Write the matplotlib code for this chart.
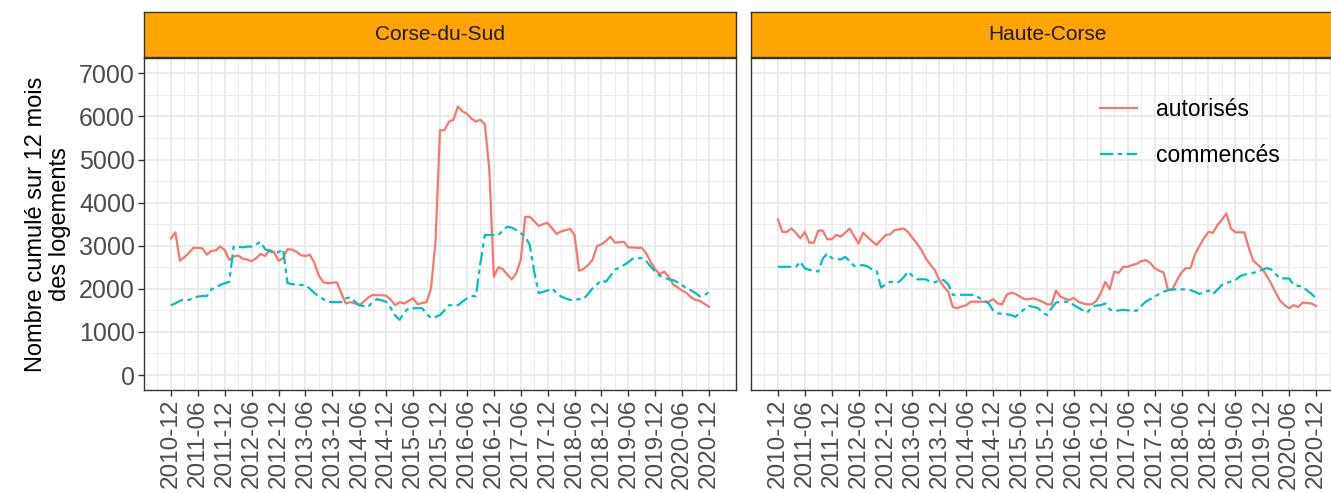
import numpy as np
import pandas as pd
import matplotlib
matplotlib.use("agg")
import matplotlib.pyplot as plt
from matplotlib.ticker import MultipleLocator

plt.rcParams['font.family'] = ['Liberation Sans', 'DejaVu Sans']

# mois de 2010-12 a 2020-12
mois = pd.date_range("2010-12-01", "2020-12-01", freq="MS")
departements = ["Corse-du-Sud", "Haute-Corse"]

cds_autorises = [
    3170, 3310, 2650, 2730, 2830, 2950, 2950, 2940, 2790, 2880, 2890, 2980,
    2900, 2670, 2750, 2770, 2700, 2680, 2640, 2710, 2810, 2760, 2900, 2850,
    2650, 2710, 2920, 2910, 2860, 2780, 2760, 2790, 2600, 2300, 2150, 2130,
    2140, 2150, 1900, 1660, 1690, 1660, 1620, 1700, 1800, 1860, 1850, 1850,
    1840, 1750, 1620, 1690, 1660, 1720, 1780, 1640, 1670, 1690, 2010, 3100,
    5680, 5680, 5880, 5920, 6230, 6120, 6060, 5950, 5880, 5920, 5820, 4760,
    2280, 2500, 2460, 2330, 2220, 2360, 2670, 3670, 3670, 3570, 3460, 3500,
    3530, 3400, 3270, 3330, 3360, 3390, 3250, 2420, 2460, 2550, 2670, 2990,
    3030, 3110, 3210, 3070, 3080, 3090, 2960, 2960, 2950, 2950, 2820, 2620,
    2450, 2340, 2400, 2280, 2100, 2030, 1960, 1900, 1800, 1740, 1720, 1650,
    1580]
cds_commences = [
    1620, 1660, 1720, 1760, 1740, 1780, 1820, 1830, 1830, 1990, 2020, 2090,
    2130, 2160, 2980, 2980, 2960, 2980, 2980, 3030, 3090, 2920, 2880, 2820,
    2850, 2920, 2130, 2110, 2090, 2090, 2090, 2000, 1900, 1820, 1760, 1700,
    1690, 1690, 1690, 1780, 1800, 1700, 1620, 1600, 1580, 1700, 1760, 1730,
    1700, 1560, 1380, 1280, 1450, 1550, 1550, 1550, 1550, 1420, 1320, 1350,
    1390, 1500, 1620, 1620, 1620, 1700, 1780, 1830, 1830, 2590, 3250, 3250,
    3250, 3250, 3350, 3440, 3420, 3360, 3290, 3210, 3020, 2400, 1900, 1930,
    1960, 2010, 1900, 1820, 1780, 1740, 1750, 1760, 1760, 1880, 2010, 2100,
    2200, 2160, 2300, 2450, 2480, 2550, 2620, 2700, 2710, 2710, 2640, 2510,
    2400, 2300, 2260, 2220, 2200, 2150, 2080, 2010, 1960, 1900, 1820, 1850,
    1930]
hc_autorises = [
    3610, 3320, 3320, 3400, 3300, 3170, 3320, 3070, 3070, 3350, 3350, 3150,
    3150, 3250, 3210, 3300, 3400, 3220, 3050, 3300, 3200, 3100, 3020, 3130,
    3250, 3260, 3360, 3380, 3400, 3320, 3180, 3050, 2900, 2700, 2560, 2430,
    2200, 2050, 1930, 1580, 1550, 1590, 1620, 1700, 1700, 1700, 1700, 1700,
    1760, 1660, 1640, 1860, 1910, 1880, 1820, 1760, 1760, 1780, 1740, 1700,
    1640, 1640, 1960, 1820, 1770, 1740, 1790, 1700, 1660, 1640, 1640, 1720,
    1900, 2160, 1990, 2400, 2370, 2510, 2510, 2550, 2580, 2640, 2670, 2600,
    2480, 2420, 2380, 1970, 2000, 2200, 2380, 2480, 2480, 2800, 3000, 3170,
    3320, 3300, 3480, 3600, 3750, 3400, 3310, 3310, 3310, 2950, 2650, 2560,
    2460, 2300, 2120, 1910, 1720, 1620, 1550, 1620, 1580, 1680, 1670, 1660,
    1600]
hc_commences = [
    2510, 2510, 2510, 2510, 2510, 2630, 2470, 2440, 2420, 2400, 2700, 2820,
    2710, 2700, 2680, 2740, 2640, 2530, 2540, 2550, 2520, 2450, 2420, 2030,
    2100, 2160, 2160, 2160, 2260, 2400, 2300, 2220, 2220, 2220, 2160, 2150,
    2200, 2200, 2100, 1860, 1860, 1860, 1860, 1860, 1860, 1780, 1720, 1660,
    1500, 1430, 1420, 1410, 1390, 1350, 1450, 1530, 1600, 1580, 1550, 1450,
    1390, 1550, 1680, 1700, 1700, 1700, 1620, 1560, 1500, 1450, 1580, 1610,
    1620, 1660, 1520, 1480, 1500, 1510, 1500, 1500, 1490, 1600, 1700, 1760,
    1820, 1880, 1930, 1970, 1980, 1990, 1990, 1980, 1970, 1930, 1880, 1920,
    1960, 1880, 1980, 2090, 2130, 2170, 2200, 2290, 2330, 2340, 2370, 2400,
    2440, 2480, 2450, 2340, 2240, 2240, 2240, 2090, 2070, 2050, 1960, 1880,
    1780]

series = {
    "Corse-du-Sud": (cds_autorises, cds_commences),
    "Haute-Corse": (hc_autorises, hc_commences),
}

W, H = 1331, 492
fig = plt.figure(figsize=(W / 100, H / 100), dpi=100)
fig.patch.set_facecolor("white")

x = np.arange(len(mois))
labels = [d.strftime("%Y-%m") for d in mois[::6]]
gauches = [144, 751]
largeur = 592
haut, bas, strip_haut = 58, 390, 12

for i, dep in enumerate(departements):
    g = gauches[i]
    ax = fig.add_axes([g / W, 1 - bas / H, largeur / W, (bas - haut) / H])
    aut, com = series[dep]
    ax.plot(x, aut, color="#F8766D", lw=1.6, label="autorisés", zorder=3)
    ax.plot(x, com, color="#00BFC4", lw=1.6, linestyle=(0, (6, 2, 2, 2)),
            label="commencés", zorder=3)
    ax.set_xlim(-6, 126)
    ax.set_ylim(-348, 7355)
    ax.set_xticks(x[::6])
    ax.set_xticklabels(labels, rotation=90, fontsize=17.5, color="#4D4D4D")
    ax.xaxis.set_minor_locator(MultipleLocator(3))
    ax.set_yticks(range(0, 7001, 1000))
    ax.yaxis.set_minor_locator(MultipleLocator(500))
    ax.grid(which="major", color="#EBEBEB", lw=1.4, zorder=0)
    ax.grid(which="minor", color="#EBEBEB", lw=0.7, zorder=0)
    ax.set_axisbelow(True)
    ax.tick_params(which="major", length=4.5, width=1, color="#333333", pad=2)
    ax.tick_params(which="minor", length=0)
    for s in ax.spines.values():
        s.set_color("#333333")
        s.set_linewidth(1.0)
    if i == 0:
        ax.tick_params(axis="y", labelsize=18, labelcolor="#4D4D4D")
        ax.set_ylabel("Nombre cumulé sur 12 mois\ndes logements", fontsize=17,
                      color="black", labelpad=6, linespacing=1.1)
    else:
        ax.tick_params(axis="y", left=False, labelleft=False)
        ax.legend(loc="upper left", bbox_to_anchor=(0.5895, 0.88),
                  frameon=False, fontsize=16.5, handlelength=1.6,
                  handletextpad=0.85, labelspacing=1.0, borderpad=0,
                  borderaxespad=0)

    sax = fig.add_axes([g / W, 1 - (haut - 1) / H, largeur / W,
                        (haut - 1 - strip_haut) / H])
    sax.set_facecolor("#FFA500")
    sax.set_xticks([])
    sax.set_yticks([])
    for s in sax.spines.values():
        s.set_color("#333333")
        s.set_linewidth(1.0)
    sax.text(0.5, 0.5, dep, ha="center", va="center", fontsize=15,
             color="#1A1A1A", transform=sax.transAxes)

fig.savefig("out.png", dpi=100)
